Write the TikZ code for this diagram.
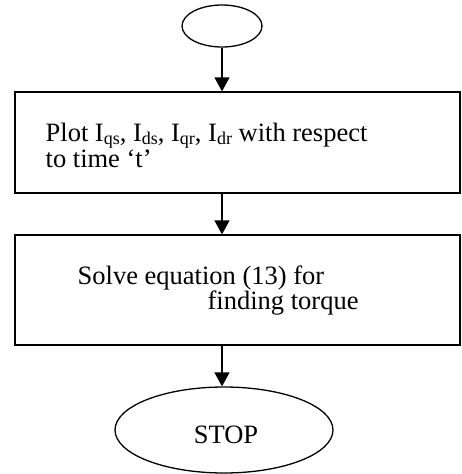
\documentclass[tikz,border=0pt]{standalone}
\usepackage{fontspec}
\setmainfont{Liberation Serif}
\usetikzlibrary{arrows.meta,shapes.geometric}
\newcommand{\mysub}[1]{\raisebox{-3.5pt}{\fontsize{18}{18}\selectfont #1}}
\begin{document}
\begin{tikzpicture}[x=1pt,y=-1pt,
  line width=1.3pt,
  oval/.style={draw,ellipse,inner sep=0pt},
  procbox/.style={draw,rectangle,inner sep=0pt,minimum width=445pt},
  lbl/.style={anchor=base west,inner sep=0pt,font=\fontsize{26.5}{28}\selectfont},
  arr/.style={-{Triangle[length=14pt,width=15pt]}}]
\useasboundingbox (0,0) rectangle (461,474);
\node[oval,minimum width=80pt,minimum height=42pt] (start) at (222,26) {};
\node[procbox,minimum height=101pt] (box1) at (237.5,142.5) {};
\node[procbox,minimum height=110pt] (box2) at (237.5,290) {};
\node[oval,minimum width=218pt,minimum height=86pt] (stop) at (224,430) {};
\node[lbl] (t1) at (45,141) {Plot I\mysub{qs}, I\mysub{ds}, I\mysub{qr}, I\mysub{dr} with respect};
\node[lbl] (t2) at (45,167.5) {to time ‘t’};
\node[lbl] (t3) at (77,284) {Solve equation (13) for};
\node[lbl] (t4) at (207,309) {finding torque};
\node[lbl,anchor=base] (t5) at (226,443) {STOP};
\draw[arr] (start.south) -- (start.south |- box1.north);
\draw[arr] (box1.south -| start.south) -- (box2.north -| start.south);
\draw[arr] (box2.south -| start.south) -- (stop.north -| start.south);
\end{tikzpicture}
\end{document}
